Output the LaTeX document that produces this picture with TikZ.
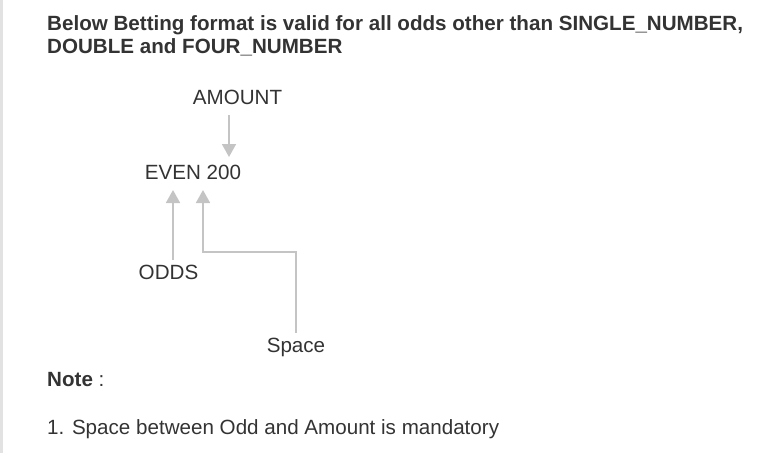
\documentclass[tikz,border=0pt]{standalone}
\usepackage{fontspec}
\setmainfont{Liberation Sans}
\usetikzlibrary{arrows.meta}
\definecolor{txt}{HTML}{333333}
\definecolor{arr}{HTML}{C4C4C4}
\definecolor{bord}{HTML}{E2E2E2}
\begin{document}
\begin{tikzpicture}[x=1pt,y=-1pt,
  lbl/.style={inner sep=0pt,anchor=base west,text=txt,font=\fontsize{20.6}{24}\selectfont},
  ttl/.style={lbl,font=\fontsize{20.6}{24}\selectfont\bfseries},
  conn/.style={draw=arr,line width=1.8pt,-{Triangle[width=14pt,length=13pt]}}]
\useasboundingbox (0,0) rectangle (761,453);
\fill[bord] (0,0) rectangle (3,453);
\node[ttl] (t1) at (47,30) {Below Betting format is valid for all odds other than SINGLE\_NUMBER,};
\node[ttl] (t2) at (47,53) {DOUBLE and FOUR\_NUMBER};
\node[lbl,anchor=center] (amount) at (237.5,97) {AMOUNT};
\node[lbl,anchor=center] (even) at (193,172) {EVEN 200};
\node[lbl,anchor=center] (odds) at (168.5,272) {ODDS};
\node[lbl,anchor=center] (space) at (296,347) {Space};
\coordinate (a1) at (229,115);
\coordinate (a2) at (229,157);
\coordinate (o1) at (173,260);
\coordinate (o2) at (173,190);
\coordinate (s1) at (296,333);
\coordinate (s2) at (296,252);
\coordinate (s3) at (203,252);
\coordinate (s4) at (203,190);
\draw[conn] (a1) -- (a2);
\draw[conn] (o1) -- (o2);
\draw[conn] (s1) -- (s2) -- (s3) -- (s4);
\node[lbl] (note) at (47,386) {\textbf{Note} :};
\node[lbl] (n1) at (47,434) {1. Space between Odd and Amount is mandatory};
\end{tikzpicture}
\end{document}
